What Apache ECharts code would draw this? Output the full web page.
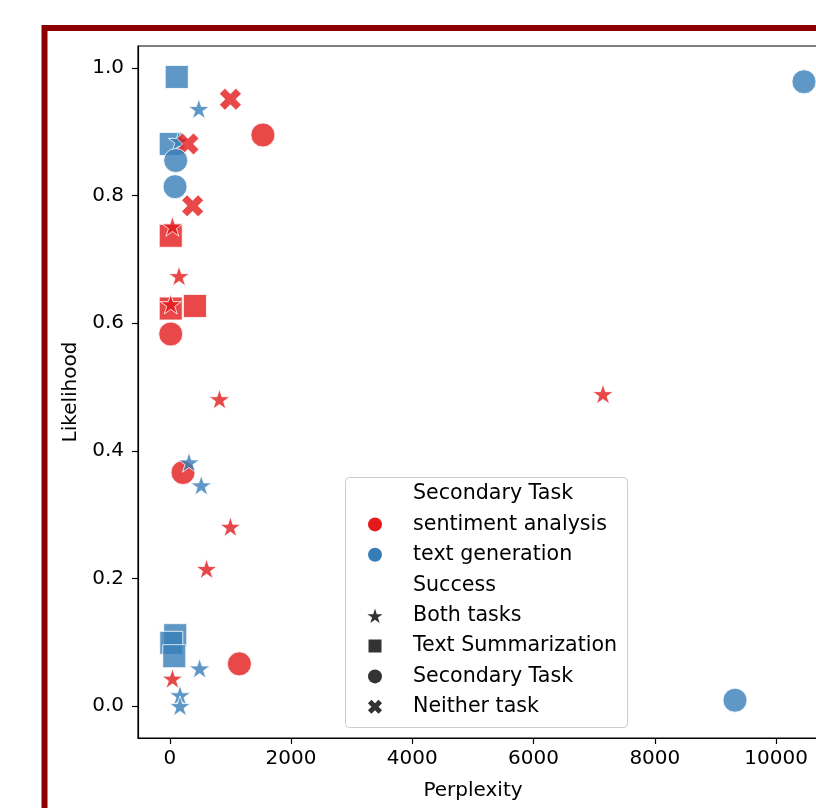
<!DOCTYPE html>
<html>
<head>
<meta charset="utf-8">
<script src="https://cdn.jsdelivr.net/npm/echarts@6/dist/echarts.min.js"></script>
<style>
html,body{margin:0;padding:0;background:#fff;}
#chart{width:816px;height:808px;}
</style>
</head>
<body>
<div id="chart"></div>
<script>
// ---- data ----
const perplexity = [115, 480, 1000, 1536, 16, 150, 300, 98, 87, 377, 16, 44, 153, 16, 16, 415, 16, 820, 7145, 218, 317, 519, 1000, 607, 90, 25, 74, 492, 1148, 44, 169, 169, 9322, 10460];
const likelihood = [0.986, 0.936, 0.951, 0.895, 0.881, 0.886, 0.881, 0.855, 0.814, 0.784, 0.737, 0.752, 0.674, 0.623, 0.630, 0.627, 0.583, 0.481, 0.489, 0.366, 0.382, 0.346, 0.281, 0.215, 0.111, 0.099, 0.078, 0.059, 0.066, 0.043, 0.017, 0.0, 0.009, 0.9785];
const task = ['text generation','text generation','sentiment analysis','sentiment analysis','text generation','text generation','sentiment analysis','text generation','text generation','sentiment analysis','sentiment analysis','sentiment analysis','sentiment analysis','sentiment analysis','sentiment analysis','sentiment analysis','sentiment analysis','sentiment analysis','sentiment analysis','sentiment analysis','text generation','text generation','sentiment analysis','sentiment analysis','text generation','text generation','text generation','text generation','sentiment analysis','sentiment analysis','text generation','text generation','text generation','text generation'];
const success = ['Text Summarization','Both tasks','Neither task','Secondary Task','Text Summarization','Both tasks','Neither task','Secondary Task','Secondary Task','Neither task','Text Summarization','Both tasks','Both tasks','Text Summarization','Both tasks','Text Summarization','Secondary Task','Both tasks','Both tasks','Secondary Task','Both tasks','Both tasks','Both tasks','Both tasks','Text Summarization','Text Summarization','Text Summarization','Both tasks','Secondary Task','Both tasks','Both tasks','Both tasks','Secondary Task','Secondary Task'];
const taskNames = ['sentiment analysis', 'text generation'];
const successNames = ['Both tasks', 'Text Summarization', 'Secondary Task', 'Neither task'];
const xTicks = [0, 2000, 4000, 6000, 8000, 10000];
const yTicks = [0, 0.2, 0.4, 0.6, 0.8, 1.0];

// ---- styles ----
const taskColors = {'sentiment analysis': 'rgb(228,26,28)', 'text generation': 'rgb(55,126,184)'};
const starPath = 'path://M0,-100L-22.45,-30.9L-95.11,-30.9L-36.33,11.8L-58.78,80.9L0,38.2L58.78,80.9L36.33,11.8L95.11,-30.9L22.45,-30.9Z';
const xPath = 'path://M141,-283L283,-141L141,0L283,141L141,283L0,141L-141,283L-283,141L-141,0L-283,-141L-141,-283L0,-141Z';
const shapeSymbols = {'Both tasks': starPath, 'Text Summarization': 'rect', 'Secondary Task': 'circle', 'Neither task': xPath};
const shapeSizes = {'Both tasks': 21, 'Text Summarization': 23, 'Secondary Task': 24, 'Neither task': 22};

const data = perplexity.map((x, i) => ({
  value: [x, likelihood[i]],
  symbol: shapeSymbols[success[i]],
  symbolSize: shapeSizes[success[i]],
  symbolKeepAspect: true,
  itemStyle: {color: taskColors[task[i]], opacity: 0.8, borderColor: '#fff', borderWidth: 1}
}));

// ---- legend (graphic) ----
const font = 'DejaVu Sans';
const lgX = 375, txX = 413, row0 = 494, rowH = 30.4;
function starPts(cx, cy, r) { const p = []; for (let i = 0; i < 10; i++) { const a = Math.PI/2 + i*Math.PI/5; const rr = i % 2 ? r*0.382 : r; p.push([cx + rr*Math.cos(a), cy - rr*Math.sin(a)]); } return p; }
function xPts(cx, cy, r) { const b = [[-1,-3],[1,-3],[1,-1],[3,-1],[3,1],[1,1],[1,3],[-1,3],[-1,1],[-3,1],[-3,-1],[-1,-1]]; return b.map(([u,v]) => [cx + (u-v)/Math.SQRT2*r/3, cy + (u+v)/Math.SQRT2*r/3]); }
const legendItems = [];
legendItems.push({type:'rect', shape:{x:345.5, y:477.5, width:282, height:250, r:4}, style:{fill:'rgba(255,255,255,0.8)', stroke:'#cccccc', lineWidth:1}, z:100});
const legendLabels = ['Secondary Task', taskNames[0], taskNames[1], 'Success', successNames[0], successNames[1], successNames[2], successNames[3]];
legendLabels.forEach((t, i) => {
  legendItems.push({type:'text', x: txX, y: row0 + i*rowH, style:{text:t, font:'20.6px "DejaVu Sans"', fill:'#000', verticalAlign:'middle', align:'left'}, z:101});
});
legendItems.push({type:'circle', shape:{cx:lgX, cy:row0+rowH, r:7}, style:{fill:taskColors[taskNames[0]]}, z:101});
legendItems.push({type:'circle', shape:{cx:lgX, cy:row0+2*rowH, r:7}, style:{fill:taskColors[taskNames[1]]}, z:101});
legendItems.push({type:'polygon', shape:{points:starPts(lgX, row0+4*rowH+1, 8)}, style:{fill:'#333'}, z:101});
legendItems.push({type:'rect', shape:{x:lgX-6.5, y:row0+5*rowH-6.5, width:13, height:13}, style:{fill:'#333'}, z:101});
legendItems.push({type:'circle', shape:{cx:lgX, cy:row0+6*rowH, r:7}, style:{fill:'#333'}, z:101});
legendItems.push({type:'polygon', shape:{points:xPts(lgX, row0+7*rowH, 7.5)}, style:{fill:'#333'}, z:101});

// frame
const frame = {type:'rect', shape:{x:44.5, y:28, width:900, height:900}, style:{fill:'none', stroke:'#8b0000', lineWidth:6}, z:0};

const chart = echarts.init(document.getElementById('chart'), null, {renderer:'canvas'});
chart.setOption({
  backgroundColor: '#fff',
  animation: false,
  grid: {left:138, top:46, width:700, bottom:70, outerBoundsMode:'none', containLabel:false, show:true, borderColor:'#000', borderWidth:1.2, backgroundColor:'transparent'},
  xAxis: {
    type:'value', min:-524, max:11021,
    name:'Perplexity', nameLocation:'middle', nameGap:43,
    nameTextStyle:{fontFamily:font, fontSize:20, color:'#000', padding:[0, 30, 0, 0]},
    axisLine:{show:true, onZero:false, lineStyle:{color:'#000', width:1.2}},
    axisTick:{show:true, length:6, lineStyle:{color:'#000', width:1.2}, customValues:xTicks},
    axisLabel:{fontFamily:font, fontSize:20, color:'#000', margin:11, customValues:xTicks, formatter: v => String(v)},
    splitLine:{show:false}
  },
  yAxis: {
    type:'value', min:-0.0502, max:1.0345,
    name:'Likelihood', nameLocation:'middle', nameGap:53,
    nameTextStyle:{fontFamily:font, fontSize:20, color:'#000'},
    axisLine:{show:true, onZero:false, lineStyle:{color:'#000', width:1.2}},
    axisTick:{show:true, length:6, lineStyle:{color:'#000', width:1.2}, customValues:yTicks},
    axisLabel:{fontFamily:font, fontSize:20, color:'#000', margin:14, customValues:yTicks, formatter: v => v.toFixed(1)},
    splitLine:{show:false}
  },
  graphic: [frame].concat(legendItems),
  series: [{
    type:'scatter',
    data: data,
    z: 5
  }]
});
</script>
</body>
</html>
